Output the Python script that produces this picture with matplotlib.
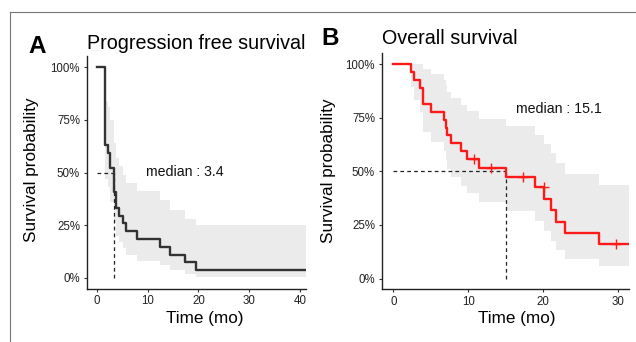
import matplotlib
matplotlib.use("Agg")
import matplotlib.pyplot as plt
from matplotlib.lines import Line2D

plt.rcParams["font.family"] = ["Liberation Sans", "DejaVu Sans"]

# progression free survival (A)
pfs_time = [0, 1.6, 2.2, 2.6, 3.3, 3.8, 4.3, 5.2, 5.8, 7.9, 12.5, 14.4, 17.3, 19.5, 41.2]
pfs_surv = [1.0, 0.630, 0.593, 0.519, 0.407, 0.333, 0.296, 0.259, 0.222, 0.185, 0.148, 0.111, 0.074, 0.037, 0.037]
pfs_upper = [1.0, 0.84, 0.81, 0.75, 0.64, 0.57, 0.53, 0.49, 0.45, 0.41, 0.37, 0.32, 0.28, 0.25, 0.25]
pfs_lower = [1.0, 0.47, 0.43, 0.36, 0.26, 0.20, 0.17, 0.14, 0.11, 0.08, 0.06, 0.04, 0.02, 0.005, 0.005]
pfs_median = 3.4

# overall survival (B)
os_time = [0, 2.3, 2.7, 3.6, 4.0, 5.0, 6.8, 7.0, 7.2, 7.75, 9.1, 9.8, 11.5, 15.1, 18.9, 20.2, 21.1, 21.8, 22.9, 27.5, 31.5]
os_surv = [1.0, 0.963, 0.926, 0.889, 0.815, 0.778, 0.741, 0.704, 0.667, 0.630, 0.593, 0.556, 0.516, 0.473, 0.426, 0.372, 0.319, 0.266, 0.213, 0.160, 0.160]
os_upper = [1.0, 1.0, 1.0, 1.0, 0.978, 0.952, 0.926, 0.899, 0.871, 0.842, 0.81, 0.779, 0.745, 0.709, 0.671, 0.629, 0.585, 0.537, 0.488, 0.436, 0.436]
os_lower = [1.0, 0.895, 0.832, 0.776, 0.683, 0.636, 0.593, 0.551, 0.511, 0.472, 0.433, 0.397, 0.357, 0.315, 0.270, 0.220, 0.174, 0.132, 0.093, 0.059, 0.059]
os_cens_time = [10.8, 13.1, 17.4, 20.1, 29.8]
os_cens_surv = [0.556, 0.516, 0.473, 0.426, 0.160]
os_median = 15.1

y_ticks = [0, 0.25, 0.5, 0.75, 1.0]
y_ticklabels = ["0%", "25%", "50%", "75%", "100%"]

W, H = 636, 342
fig = plt.figure(figsize=(W / 100, H / 100), dpi=100)


def px_axes(left, right, top, bottom):
    return fig.add_axes([left / W, 1 - bottom / H, (right - left) / W, (bottom - top) / H])


def style(ax, xlim, xticks):
    ax.set_xlim(*xlim)
    ax.set_ylim(-0.05, 1.05)
    ax.set_xticks(xticks)
    ax.set_yticks(y_ticks)
    ax.set_yticklabels(y_ticklabels)
    for s in ["top", "right"]:
        ax.spines[s].set_visible(False)
    for s in ["left", "bottom"]:
        ax.spines[s].set_color("#222222")
        ax.spines[s].set_linewidth(1.0)
    ax.tick_params(labelsize=8.3, length=2.5, width=0.8, color="#333333",
                   labelcolor="#222222", pad=2.5)


def km(ax, t, s, lo, hi, color, med, med_text, text_xy):
    ax.fill_between(t, lo, hi, step="post", color="#ebebeb", lw=0)
    ax.plot([0, med], [0.5, 0.5], ls=(0, (3, 2.5)), color="#222222", lw=0.9)
    ax.plot([med, med], [0, 0.5], ls=(0, (3, 2.5)), color="#222222", lw=0.9)
    ax.step(t, s, where="post", color=color, lw=1.7)
    ax.text(text_xy[0], text_xy[1], med_text, fontsize=10.2, ha="center",
            va="center", color="#111111")


axA = px_axes(87, 306, 56.5, 288.5)
km(axA, pfs_time, pfs_surv, pfs_lower, pfs_upper, "#333333", pfs_median,
   "median : 3.4", (17.3, 0.5))
style(axA, (-1.97, 41.2), [0, 10, 20, 30, 40])

axB = px_axes(382, 629, 53.3, 289.3)
km(axB, os_time, os_surv, os_lower, os_upper, "#ff1a1a", os_median,
   "median : 15.1", (22.2, 0.79))
axB.plot(os_cens_time, os_cens_surv, ls="none", marker="+", ms=7, mew=1.0,
         color="#ff1a1a")
style(axB, (-1.51, 31.5), [0, 10, 20, 30])

# titles and labels
fig.text(28 / W, 1 - 53.3 / H, "A", fontsize=17.5, fontweight="bold", va="baseline")
fig.text(87 / W, 1 - 49.3 / H, "Progression free survival", fontsize=14.2, va="baseline")
fig.text(321 / W, 1 - 45 / H, "B", fontsize=17.5, fontweight="bold", va="baseline")
fig.text(381.7 / W, 1 - 44.3 / H, "Overall survival", fontsize=14.2, va="baseline")

fig.text(32 / W, 1 - 170 / H, "Survival probability", fontsize=12.3, rotation=90,
         ha="center", va="center")
fig.text(328.5 / W, 1 - 171 / H, "Survival probability", fontsize=12.3, rotation=90,
         ha="center", va="center")
fig.text(204.7 / W, 1 - 318 / H, "Time (mo)", fontsize=12.3, ha="center", va="center")
fig.text(516.5 / W, 1 - 318 / H, "Time (mo)", fontsize=12.3, ha="center", va="center")

# thin frame on top and left
fig.add_artist(Line2D([10 / W, 1], [1 - 12 / H, 1 - 12 / H], color="#777777", lw=0.8))
fig.add_artist(Line2D([10 / W, 10 / W], [0, 1 - 12 / H], color="#777777", lw=0.8))

fig.savefig("out.png", dpi=100)
